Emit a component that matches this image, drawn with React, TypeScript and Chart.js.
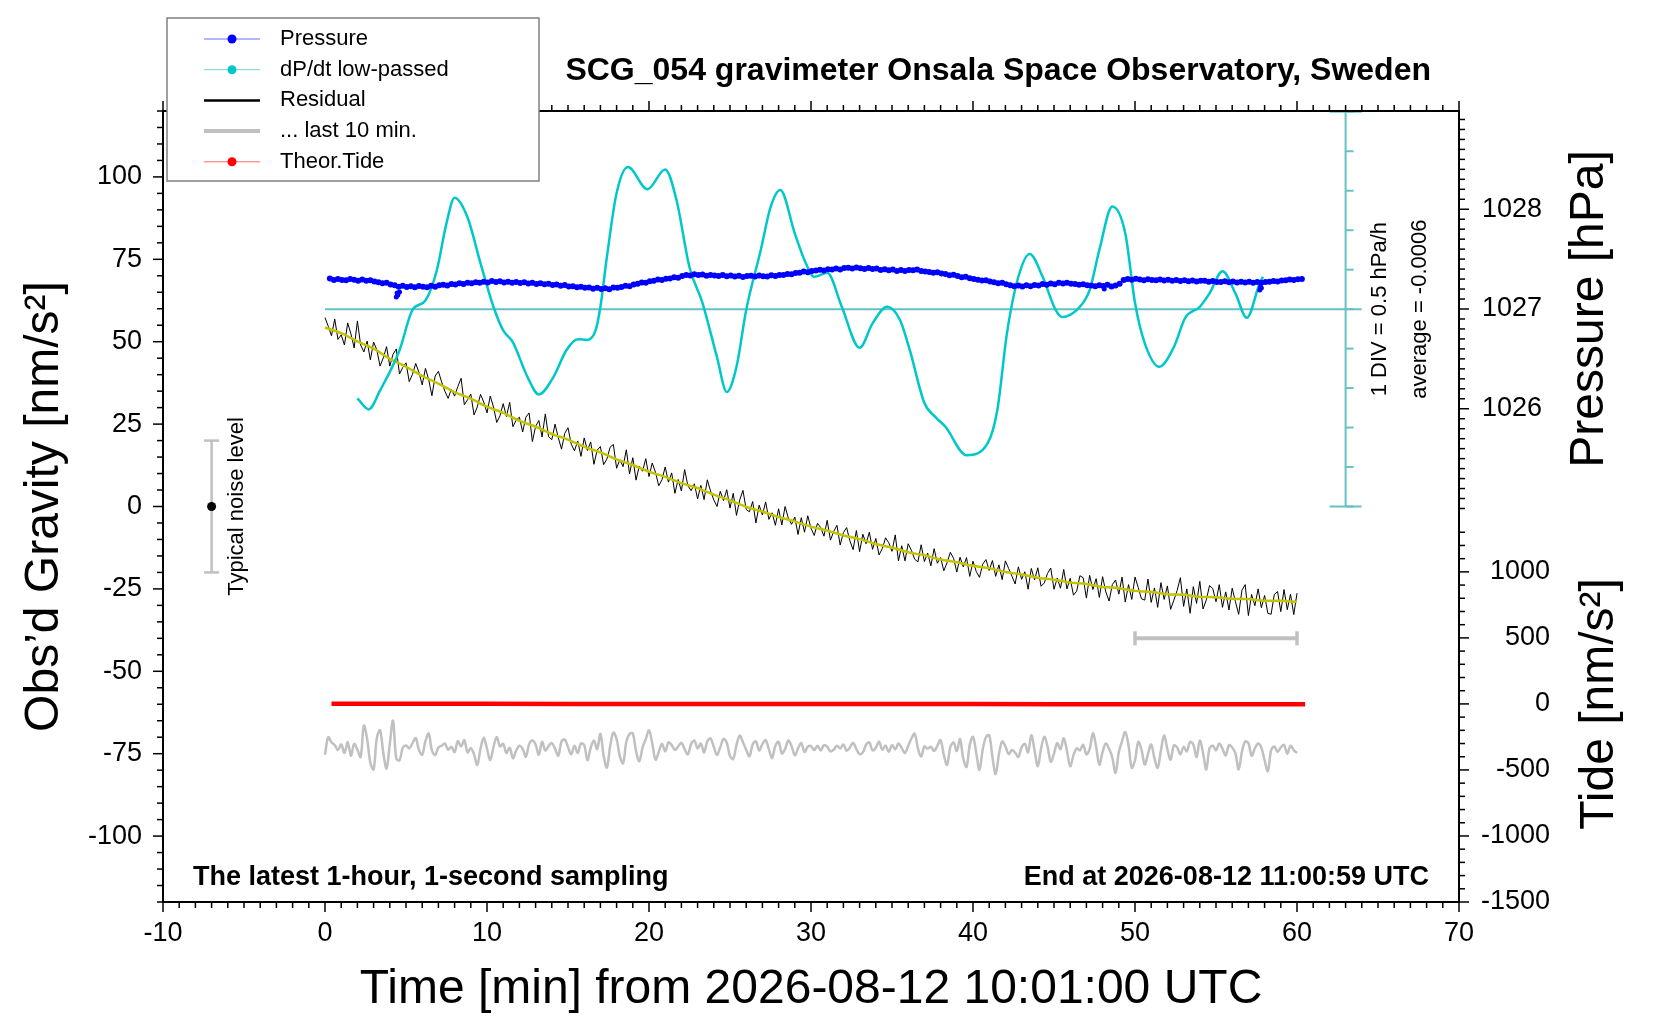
import React, { useEffect, useRef } from 'react';
import { Chart, registerables } from 'chart.js';

Chart.register(...registerables);

const FONT = '"Liberation Sans", Arial, Helvetica, sans-serif';

// tick labels
const TIME_TICKS = [-10, 0, 10, 20, 30, 40, 50, 60, 70];
const GRAVITY_TICKS = [-100, -75, -50, -25, 0, 25, 50, 75, 100];
const PRESSURE_TICKS = [1026, 1027, 1028];
const TIDE_TICKS = [-1500, -1000, -500, 0, 500, 1000];
const DIV_TICKS = [-2.5, -2, -1.5, -1, -0.5, 0, 0.5, 1, 1.5, 2, 2.5];

// residual gravity, one sample every 0.2 min from 0 to 60 min [nm/s^2]
const RESIDUAL_STEP = 0.2;
const residual = [
  57.3, 54.7, 51.8, 56.9, 50.7, 52.1, 49.0, 55.7, 52.4, 48.1,
  56.3, 49.0, 46.9, 50.2, 44.5, 49.9, 47.5, 42.6, 45.1, 48.5,
  42.6, 46.2, 47.8, 40.2, 42.2, 43.6, 37.9, 40.1, 43.4, 40.7,
  36.9, 41.9, 38.5, 33.6, 39.6, 41.0, 37.8, 35.0, 32.8, 35.6,
  33.5, 36.4, 38.9, 30.9, 32.4, 34.1, 27.8, 30.2, 34.0, 31.7,
  28.4, 33.5, 30.2, 25.5, 27.5, 31.2, 27.3, 31.6, 24.2, 26.2,
  27.1, 22.6, 27.1, 28.4, 19.7, 24.3, 26.1, 21.1, 28.1, 21.2,
  20.3, 25.0, 20.9, 17.4, 22.2, 23.9, 18.9, 16.9, 19.9, 15.2,
  20.8, 17.0, 19.6, 12.8, 17.1, 18.2, 12.7, 14.4, 18.0, 18.8,
  11.6, 14.2, 12.1, 17.2, 9.9, 14.8, 8.0, 12.3, 10.7, 14.5,
  9.1, 13.2, 10.4, 6.3, 8.1, 12.0, 7.4, 10.2, 4.0, 8.2,
  4.7, 11.2, 6.3, 4.8, 6.9, 2.3, 6.4, 2.1, 8.1, 4.7,
  2.0, 0.0, 4.6, 1.8, 5.1, -0.5, 4.0, -2.7, 2.0, 4.9,
  -0.9, -1.6, 1.5, -5.0, 0.4, -2.6, 1.4, -3.9, -1.9, -5.7,
  -0.7, -5.6, 0.0, -3.5, -5.4, -3.2, -8.5, -3.4, -7.8, -2.8,
  -6.6, -8.8, -5.1, -6.4, -9.0, -4.2, -10.2, -7.6, -5.7, -11.7,
  -7.9, -6.4, -10.4, -13.1, -7.3, -13.7, -8.4, -11.3, -7.8, -13.0,
  -9.7, -14.7, -12.8, -9.5, -11.0, -13.6, -8.6, -16.5, -11.9, -16.5,
  -11.3, -13.3, -16.0, -16.8, -11.6, -16.7, -14.1, -18.0, -12.8, -17.2,
  -15.5, -19.5, -17.0, -13.9, -15.7, -19.9, -15.4, -18.3, -15.5, -21.2,
  -16.6, -19.7, -21.5, -17.5, -16.1, -19.4, -16.4, -21.2, -17.7, -22.2,
  -16.5, -18.8, -21.1, -23.5, -18.3, -22.1, -19.8, -25.1, -18.8, -22.3,
  -18.6, -24.2, -23.2, -20.3, -18.7, -25.1, -21.7, -24.8, -19.1, -25.0,
  -21.8, -26.9, -25.7, -21.0, -21.6, -27.8, -20.9, -25.2, -21.9, -27.6,
  -21.3, -25.9, -28.7, -23.7, -22.3, -26.6, -21.4, -29.0, -23.7, -28.2,
  -21.4, -24.6, -28.0, -28.4, -22.0, -29.1, -24.7, -30.6, -23.1, -28.2,
  -24.1, -31.2, -28.4, -25.5, -21.6, -30.3, -25.0, -32.4, -24.3, -29.4,
  -22.7, -31.1, -28.4, -24.0, -24.9, -28.9, -23.7, -30.6, -25.9, -31.4,
  -24.8, -28.9, -32.7, -25.4, -23.7, -33.1, -26.7, -30.1, -25.0, -30.7,
  -27.0, -32.4, -32.7, -26.7, -25.8, -31.9, -25.2, -31.3, -26.6, -32.8,
  -26.3,
];

// low-passed residual, one sample per minute
const SMOOTH_STEP = 1;
const residualSmooth = [
  54.3, 52.6, 50.1, 47.9, 44.8, 42.4, 39.6, 37.3, 34.7, 32.7,
  30.3, 28.4, 26.0, 24.2, 22.0, 20.3, 18.1, 16.4, 14.3, 12.6,
  10.6, 9.0, 7.1, 5.6, 3.6, 1.9, -0.1, -1.5, -3.2, -4.5,
  -6.1, -7.3, -8.8, -9.9, -11.4, -12.5, -13.9, -14.8, -16.1, -16.9,
  -18.0, -18.7, -19.9, -20.6, -21.6, -22.2, -23.1, -23.5, -24.4, -24.8,
  -25.6, -25.9, -26.6, -26.8, -27.4, -27.5, -28.0, -28.1, -28.6, -28.6,
  -28.9,
];

// "... last 10 min." trace, one sample every 0.2 min
const LAST10_STEP = 0.2;
const last10 = [
  -75.3, -70.0, -71.6, -72.4, -73.9, -72.2, -74.8, -71.5, -75.6, -72.0,
  -73.8, -76.0, -66.5, -70.5, -77.8, -79.8, -70.2, -67.9, -74.8, -79.5,
  -72.0, -65.0, -76.5, -77.0, -73.2, -72.5, -73.4, -71.8, -70.3, -73.9,
  -75.3, -71.2, -68.9, -74.0, -75.4, -73.1, -72.6, -71.9, -73.8, -72.9,
  -74.5, -71.2, -72.8, -70.9, -74.6, -73.3, -75.2, -78.4, -73.5, -70.2,
  -73.5, -76.9, -73.0, -69.9, -72.8, -72.0, -74.8, -73.2, -76.4, -74.1,
  -72.6, -73.5, -75.9, -72.1, -71.0, -72.2, -75.3, -71.4, -74.0, -72.7,
  -71.8, -73.5, -75.6, -71.3, -70.7, -73.0, -75.2, -72.6, -74.8, -71.9,
  -72.4, -77.0, -73.2, -71.0, -73.6, -69.0, -75.6, -79.2, -72.8, -68.6,
  -70.5, -75.8, -77.9, -71.4, -69.0, -68.9, -74.2, -77.3, -73.2, -70.6,
  -67.9, -71.8, -76.8, -74.5, -72.0, -74.3, -71.6, -72.4, -73.9, -72.8,
  -71.7, -73.6, -75.2, -72.1, -71.0, -73.4, -71.9, -74.6, -71.2, -70.4,
  -72.9, -75.4, -73.0, -70.5, -71.7, -75.7, -76.6, -72.4, -69.5, -71.5,
  -73.8, -75.8, -72.2, -71.3, -74.0, -72.1, -70.9, -73.7, -76.3, -72.6,
  -71.4, -74.9, -73.6, -71.0, -72.7, -75.5, -73.4, -71.8, -74.5, -72.9,
  -72.7, -73.9, -72.6, -74.0, -72.4, -72.9, -74.3, -73.8, -72.6, -73.4,
  -72.2, -74.1, -73.1, -71.7, -73.6, -75.1, -74.6, -72.3, -71.6, -74.0,
  -73.2, -71.3, -73.8, -72.5, -74.4, -72.4, -73.7, -71.9, -73.3, -74.8,
  -72.6, -70.4, -68.9, -73.4, -75.9, -72.8, -73.5, -72.9, -74.2, -72.6,
  -70.9, -75.4, -78.4, -73.0, -71.6, -74.2, -70.6, -76.5, -79.0, -72.4,
  -69.9, -74.8, -79.9, -73.7, -70.0, -69.4, -76.0, -81.2, -75.2, -71.3,
  -72.8, -75.1, -73.9, -74.7, -76.0, -73.1, -72.0, -74.6, -69.4, -74.0,
  -78.8, -73.5, -69.9, -72.8, -77.4, -75.0, -71.8, -73.6, -70.3, -74.2,
  -78.8, -75.5, -73.4, -74.0, -72.3, -75.2, -73.6, -68.8, -72.9, -78.3,
  -74.5, -71.9, -73.5, -76.2, -80.8, -74.6, -71.2, -68.4, -72.5, -79.3,
  -77.0, -71.4, -73.8, -78.3, -75.1, -72.2, -76.4, -79.3, -74.0, -69.4,
  -73.7, -76.8, -72.5, -73.1, -75.2, -72.9, -74.3, -71.4, -72.2, -76.0,
  -71.0, -74.8, -79.8, -73.4, -72.6, -74.0, -71.9, -73.5, -75.5, -72.4,
  -73.1, -74.9, -79.8, -74.5, -71.3, -71.8, -75.6, -73.4, -71.9, -73.2,
  -77.0, -80.3, -74.0, -72.8, -74.5, -73.1, -72.3, -75.0, -72.6, -73.9,
  -74.8,
];

// air pressure, one sample every 0.25 min from 0.3 min [hPa]
const PRESSURE_START = 0.3;
const PRESSURE_STEP = 0.25;
const pressure = [
  1027.306, 1027.290, 1027.302, 1027.291, 1027.287, 1027.301, 1027.292, 1027.284,
  1027.296, 1027.283, 1027.289, 1027.276, 1027.268, 1027.257, 1027.263, 1027.246,
  1027.238, 1027.224, 1027.234, 1027.220, 1027.229, 1027.218, 1027.230, 1027.222,
  1027.219, 1027.233, 1027.224, 1027.238, 1027.243, 1027.236, 1027.250, 1027.246,
  1027.259, 1027.250, 1027.262, 1027.257, 1027.268, 1027.262, 1027.274, 1027.266,
  1027.281, 1027.270, 1027.278, 1027.266, 1027.274, 1027.262, 1027.271, 1027.260,
  1027.267, 1027.255, 1027.263, 1027.250, 1027.259, 1027.247, 1027.252, 1027.240,
  1027.246, 1027.233, 1027.240, 1027.226, 1027.229, 1027.219, 1027.224, 1027.212,
  1027.215, 1027.204, 1027.212, 1027.201, 1027.208, 1027.199, 1027.215, 1027.212,
  1027.220, 1027.233, 1027.228, 1027.245, 1027.252, 1027.266, 1027.262, 1027.279,
  1027.284, 1027.295, 1027.290, 1027.304, 1027.306, 1027.318, 1027.314, 1027.330,
  1027.342, 1027.335, 1027.349, 1027.341, 1027.345, 1027.333, 1027.340, 1027.336,
  1027.331, 1027.340, 1027.328, 1027.335, 1027.326, 1027.334, 1027.322, 1027.331,
  1027.334, 1027.325, 1027.337, 1027.328, 1027.326, 1027.338, 1027.330, 1027.341,
  1027.340, 1027.352, 1027.348, 1027.360, 1027.364, 1027.375, 1027.368, 1027.382,
  1027.386, 1027.394, 1027.387, 1027.398, 1027.397, 1027.405, 1027.396, 1027.410,
  1027.414, 1027.406, 1027.417, 1027.409, 1027.402, 1027.411, 1027.400, 1027.406,
  1027.391, 1027.399, 1027.388, 1027.396, 1027.381, 1027.390, 1027.382, 1027.392,
  1027.388, 1027.397, 1027.380, 1027.376, 1027.372, 1027.364, 1027.369, 1027.356,
  1027.350, 1027.339, 1027.343, 1027.330, 1027.318, 1027.323, 1027.309, 1027.302,
  1027.294, 1027.285, 1027.289, 1027.276, 1027.268, 1027.259, 1027.262, 1027.247,
  1027.238, 1027.229, 1027.236, 1027.226, 1027.237, 1027.229, 1027.241, 1027.236,
  1027.250, 1027.244, 1027.256, 1027.249, 1027.262, 1027.255, 1027.264, 1027.252,
  1027.251, 1027.243, 1027.249, 1027.238, 1027.236, 1027.228, 1027.239, 1027.231,
  1027.243, 1027.226, 1027.236, 1027.252, 1027.290, 1027.300, 1027.294, 1027.303,
  1027.296, 1027.288, 1027.298, 1027.291, 1027.287, 1027.296, 1027.286, 1027.292,
  1027.283, 1027.290, 1027.280, 1027.288, 1027.279, 1027.286, 1027.276, 1027.284,
  1027.282, 1027.274, 1027.280, 1027.271, 1027.270, 1027.278, 1027.268, 1027.275,
  1027.266, 1027.274, 1027.265, 1027.272, 1027.264, 1027.271, 1027.262, 1027.270,
  1027.274, 1027.281, 1027.276, 1027.285, 1027.288, 1027.296, 1027.291, 1027.299,
  1027.300,
];

// isolated pressure drop-outs
const spikeTime = [4.4, 4.45, 4.5, 4.6, 48.1, 57.7, 57.75, 57.8];
const spikePressure = [1027.12, 1027.16, 1027.14, 1027.17, 1027.20, 1027.19, 1027.22, 1027.21];

// low-passed dP/dt [hPa/h]
const dpdtTime = [
  2.0, 2.7, 3.4, 4.6, 5.4, 6.2, 6.9, 7.5, 8.0, 8.8, 9.6, 10.4, 11.0, 11.6, 12.5, 13.2,
  14.1, 14.9, 15.6, 16.2, 16.7, 17.0, 17.4, 18.0, 18.7, 19.9, 21.0, 21.7, 22.5, 23.3,
  24.2, 24.8, 25.4, 26.0, 26.9, 27.5, 28.1, 29.0, 29.6, 30.2, 31.0, 31.9, 33.0, 33.8,
  34.7, 35.5, 36.1, 37.0, 37.7, 38.3, 39.6, 40.9, 41.5, 42.1, 42.8, 43.5, 44.3, 45.1,
  45.5, 46.6, 47.2, 47.8, 48.6, 49.4, 50.0, 50.6, 51.5, 52.4, 53.1, 54.0, 54.6, 55.4,
  56.2, 56.9, 57.7, 57.9,
];
const dpdtValue = [
  -1.13, -1.27, -1.03, -0.52, -0.01, 0.11, 0.49, 1.09, 1.41, 1.16, 0.58, 0.03, -0.27, -0.42, -0.86, -1.08,
  -0.86, -0.52, -0.38, -0.39, -0.27, 0.03, 0.66, 1.47, 1.80, 1.52, 1.77, 1.38, 0.53, 0.08,
  -0.61, -1.05, -0.73, -0.01, 0.75, 1.29, 1.51, 0.96, 0.62, 0.41, 0.46, 0.03, -0.49, -0.18,
  0.03, -0.14, -0.52, -1.19, -1.37, -1.49, -1.85, -1.70, -1.28, -0.30, 0.41, 0.70, 0.41, -0.01,
  -0.10, 0.03, 0.24, 0.75, 1.30, 0.96, 0.08, -0.43, -0.73, -0.48, -0.11, 0.03, 0.20, 0.48,
  0.20, -0.11, 0.33, 0.41,
];

// theoretical tide [nm/s^2]
const tideTime = [0.4, 5, 10, 15, 20, 25, 30, 35, 40, 45, 50, 55, 60.5];
const tideValue = [2, 1, 1, 0, 0, 0, -1, -1, -1, -2, -2, -2, -3];

// noise marker and last-10-minutes bar
const NOISE_X = -7;
const NOISE_HALF = 20;
const LAST10_FROM = 50;
const LAST10_TO = 60;
const LAST10_LEVEL = -40;
const DIV_AXIS_X = 63;

const BLUE = '#0000ff';
const CYAN = '#00c8c8';
const TEAL = '#66c2c2';
const GREY = '#c0c0c0';
const YELLOW = '#c4c400';
const RED = '#ff0000';

const series = (vals: number[], start: number, step: number) =>
  vals.map((v, i) => ({ x: start + i * step, y: v }));
const pairs = (xs: number[], ys: number[]) => xs.map((x, i) => ({ x, y: ys[i] }));

const fixedTicks = (list: number[]) => (scale: any) => {
  scale.ticks = list.map((value) => ({ value }));
};

const line = (ctx: CanvasRenderingContext2D, x1: number, y1: number, x2: number, y2: number) => {
  ctx.beginPath();
  ctx.moveTo(x1, y1);
  ctx.lineTo(x2, y2);
  ctx.stroke();
};

const rotated = (ctx: CanvasRenderingContext2D, text: string, x: number, y: number, font: string) => {
  ctx.save();
  ctx.translate(x, y);
  ctx.rotate(-Math.PI / 2);
  ctx.font = font;
  ctx.textAlign = 'center';
  ctx.textBaseline = 'alphabetic';
  ctx.fillText(text, 0, 0);
  ctx.restore();
};

const decorPlugin = {
  id: 'decor',
  beforeDatasetsDraw(chart: any) {
    const { ctx, scales } = chart;
    const { x, d } = scales;
    const ax = x.getPixelForValue(DIV_AXIS_X);
    const yTop = d.getPixelForValue(2.5);
    const yBot = d.getPixelForValue(-2.5);
    const y0 = d.getPixelForValue(0);
    ctx.save();
    ctx.strokeStyle = TEAL;
    ctx.lineWidth = 2;
    line(ctx, ax, yTop, ax, yBot);
    DIV_TICKS.forEach((v) => {
      const yy = d.getPixelForValue(v);
      line(ctx, ax, yy, ax + 8, yy);
    });
    line(ctx, ax - 16, yTop, ax + 16, yTop);
    line(ctx, ax - 16, yBot, ax + 16, yBot);
    line(ctx, x.getPixelForValue(0), y0, ax + 16, y0);
    ctx.restore();
  },
  afterDatasetsDraw(chart: any) {
    const { ctx, chartArea: a, scales } = chart;
    const { x, g, p, t } = scales;
    ctx.save();
    // error-bar caps
    ctx.strokeStyle = GREY;
    ctx.lineWidth = 2.5;
    const nx = x.getPixelForValue(NOISE_X);
    [NOISE_HALF, -NOISE_HALF].forEach((v) => {
      const yy = g.getPixelForValue(v);
      line(ctx, nx - 7.5, yy, nx + 7.5, yy);
    });
    ctx.lineWidth = 3.5;
    const by = g.getPixelForValue(LAST10_LEVEL);
    [LAST10_FROM, LAST10_TO].forEach((v) => {
      const xx = x.getPixelForValue(v);
      line(ctx, xx, by - 7, xx, by + 7);
    });

    // frame
    ctx.strokeStyle = '#000';
    ctx.lineWidth = 2;
    ctx.strokeRect(a.left, a.top, a.right - a.left, a.bottom - a.top);

    // tick marks
    ctx.lineWidth = 1.5;
    for (let i = -10; i <= 70; i++) {
      const xx = x.getPixelForValue(i);
      const len = i % 10 === 0 ? 10 : 6;
      line(ctx, xx, a.bottom, xx, a.bottom + len);
      line(ctx, xx, a.top, xx, a.top - len);
    }
    for (let i = -24; i <= 24; i++) {
      const yy = g.getPixelForValue(i * 5);
      line(ctx, a.left, yy, a.left - (i % 5 === 0 ? 10 : 6), yy);
    }
    for (let i = 10250; i <= 10289; i += 1) {
      const yy = p.getPixelForValue(i / 10);
      line(ctx, a.right, yy, a.right + (i % 10 === 0 && i > 10250 ? 10 : 6), yy);
    }
    for (let i = -15; i <= 13; i++) {
      const yy = t.getPixelForValue(i * 100);
      line(ctx, a.right, yy, a.right + (i % 5 === 0 ? 10 : 6), yy);
    }
    ctx.restore();
  },
  afterDraw(chart: any) {
    const { ctx, chartArea: a, scales } = chart;
    const { g, p, t, d } = scales;
    ctx.save();
    ctx.fillStyle = '#000';
    ctx.textBaseline = 'middle';

    ctx.font = `bold 32px ${FONT}`;
    ctx.textAlign = 'right';
    ctx.fillText('SCG_054 gravimeter Onsala Space Observatory, Sweden', 1431, 71);

    ctx.font = `bold 27px ${FONT}`;
    ctx.textAlign = 'left';
    ctx.fillText('The latest 1-hour, 1-second sampling', 193, 878);
    ctx.textAlign = 'right';
    ctx.fillText('End at 2026-08-12 11:00:59 UTC', 1429, 878);

    ctx.font = `48px ${FONT}`;
    ctx.textAlign = 'center';
    ctx.fillText('Time [min] from 2026-08-12 10:01:00 UTC', (a.left + a.right) / 2, 990);

    rotated(ctx, 'Obs\u2019d Gravity [nm/s\u00b2]', 58, (a.top + a.bottom) / 2, `48px ${FONT}`);
    rotated(ctx, 'Pressure [hPa]', 1603, p.getPixelForValue(1027), `48px ${FONT}`);
    rotated(ctx, 'Tide [nm/s\u00b2]', 1613, t.getPixelForValue(0), `48px ${FONT}`);
    rotated(ctx, '1 DIV = 0.5 hPa/h', 1386, d.getPixelForValue(0), `22px ${FONT}`);
    rotated(ctx, 'average = -0.0006', 1426, d.getPixelForValue(0), `22px ${FONT}`);
    rotated(ctx, 'Typical noise level', 243, g.getPixelForValue(0), `22px ${FONT}`);

    // legend
    ctx.fillStyle = '#fff';
    ctx.fillRect(167, 18, 372, 163);
    ctx.strokeStyle = '#808080';
    ctx.lineWidth = 1.5;
    ctx.strokeRect(167, 18, 372, 163);
    const rows = [
      { label: 'Pressure', line: '#6a6aff', width: 1, dot: BLUE },
      { label: 'dP/dt low-passed', line: '#66dcdc', width: 1, dot: CYAN },
      { label: 'Residual', line: '#000', width: 2.5, dot: '' },
      { label: '... last 10 min.', line: GREY, width: 4, dot: '' },
      { label: 'Theor.Tide', line: '#ff6a6a', width: 1, dot: RED },
    ];
    rows.forEach((r, i) => {
      const yy = 39 + i * 30.7;
      ctx.strokeStyle = r.line;
      ctx.lineWidth = r.width;
      line(ctx, 204, yy, 260, yy);
      if (r.dot) {
        ctx.fillStyle = r.dot;
        ctx.beginPath();
        ctx.arc(232, yy, 4.5, 0, Math.PI * 2);
        ctx.fill();
      }
      ctx.fillStyle = '#000';
      ctx.font = `22px ${FONT}`;
      ctx.textAlign = 'left';
      ctx.textBaseline = 'middle';
      ctx.fillText(r.label, 280, yy);
    });
    ctx.restore();
  },
};

const tickFont = { family: FONT, size: 27 };
const hiddenGrid = { display: false, drawTicks: false };

const App: React.FC = () => {
  const canvasRef = useRef<HTMLCanvasElement>(null);

  useEffect(() => {
    document.body.style.margin = '0';
    if (!canvasRef.current) return;

    const chart = new Chart(canvasRef.current, {
      type: 'line',
      data: {
        datasets: [
          {
            label: 'Pressure',
            data: series(pressure, PRESSURE_START, PRESSURE_STEP),
            yAxisID: 'p',
            showLine: false,
            pointRadius: 3,
            pointBorderWidth: 0,
            pointBackgroundColor: BLUE,
            borderColor: BLUE,
          },
          {
            label: 'Pressure drop-outs',
            data: pairs(spikeTime, spikePressure),
            yAxisID: 'p',
            showLine: false,
            pointRadius: 2.5,
            pointBorderWidth: 0,
            pointBackgroundColor: BLUE,
            borderColor: BLUE,
          },
          {
            label: 'dP/dt low-passed',
            data: pairs(dpdtTime, dpdtValue),
            yAxisID: 'd',
            borderColor: CYAN,
            borderWidth: 2.5,
            pointRadius: 0,
            cubicInterpolationMode: 'monotone',
          },
          {
            label: 'Residual smoothed',
            data: series(residualSmooth, 0, SMOOTH_STEP),
            yAxisID: 'g',
            borderColor: YELLOW,
            borderWidth: 2.5,
            pointRadius: 0,
            tension: 0.3,
          },
          {
            label: 'Residual',
            data: series(residual, 0, RESIDUAL_STEP),
            yAxisID: 'g',
            borderColor: '#000',
            borderWidth: 1,
            pointRadius: 0,
          },
          {
            label: 'Theor.Tide',
            data: pairs(tideTime, tideValue),
            yAxisID: 't',
            borderColor: RED,
            borderWidth: 4.5,
            pointRadius: 0,
          },
          {
            label: '... last 10 min.',
            data: series(last10, 0, LAST10_STEP),
            yAxisID: 'g',
            borderColor: GREY,
            borderWidth: 2.5,
            pointRadius: 0,
            tension: 0.35,
          },
          {
            label: 'last 10 min bar',
            data: pairs([LAST10_FROM, LAST10_TO], [LAST10_LEVEL, LAST10_LEVEL]),
            yAxisID: 'g',
            borderColor: GREY,
            borderWidth: 4,
            pointRadius: 0,
          },
          {
            label: 'noise dot',
            data: pairs([NOISE_X], [0]),
            yAxisID: 'g',
            showLine: false,
            pointRadius: 4.5,
            pointBorderWidth: 0,
            pointBackgroundColor: '#000',
          },
          {
            label: 'noise bar',
            data: pairs([NOISE_X, NOISE_X], [-NOISE_HALF, NOISE_HALF]),
            yAxisID: 'g',
            borderColor: GREY,
            borderWidth: 2.5,
            pointRadius: 0,
          },
        ],
      },
      options: {
        responsive: false,
        maintainAspectRatio: false,
        devicePixelRatio: 1,
        animation: false,
        events: [],
        layout: { padding: { left: 0, right: 110, top: 111, bottom: 0 } },
        plugins: { legend: { display: false }, tooltip: { enabled: false } },
        scales: {
          x: {
            type: 'linear',
            position: 'bottom',
            min: -10,
            max: 70,
            grid: hiddenGrid,
            border: { display: false },
            afterBuildTicks: fixedTicks(TIME_TICKS),
            afterFit: (s: any) => { s.height = 118; },
            ticks: { font: tickFont, color: '#000', padding: 15, maxRotation: 0, autoSkip: false, callback: (v: any) => String(v) },
          },
          g: {
            type: 'linear',
            position: 'left',
            min: -120,
            max: 120,
            grid: hiddenGrid,
            border: { display: false },
            afterBuildTicks: fixedTicks(GRAVITY_TICKS),
            afterFit: (s: any) => { s.width = 163; },
            ticks: { font: tickFont, color: '#000', padding: 21, autoSkip: false, callback: (v: any) => String(v) },
          },
          p: {
            type: 'linear',
            position: 'right',
            weight: 0,
            min: 1021.055,
            max: 1028.985,
            grid: hiddenGrid,
            border: { display: false },
            afterBuildTicks: fixedTicks(PRESSURE_TICKS),
            afterFit: (s: any) => { s.width = 91; },
            ticks: { font: tickFont, color: '#000', padding: 23, crossAlign: 'near', autoSkip: false, callback: (v: any) => String(v) },
          },
          t: {
            type: 'linear',
            position: 'right',
            weight: 1,
            min: -1500,
            max: 4490,
            grid: hiddenGrid,
            border: { display: false },
            afterBuildTicks: fixedTicks(TIDE_TICKS),
            afterFit: (s: any) => { s.width = 0; },
            ticks: { font: tickFont, color: '#000', mirror: true, padding: 0, crossAlign: 'near', autoSkip: false, callback: (v: any) => String(v) },
          },
          d: {
            type: 'linear',
            display: false,
            min: -7.51,
            max: 2.51,
          },
        },
      } as any,
      plugins: [decorPlugin],
    });

    return () => chart.destroy();
  }, []);

  return (
    <div style={{ width: 1660, height: 1020 }}>
      <canvas ref={canvasRef} width={1660} height={1020} style={{ display: 'block' }} />
    </div>
  );
};

export default App;
